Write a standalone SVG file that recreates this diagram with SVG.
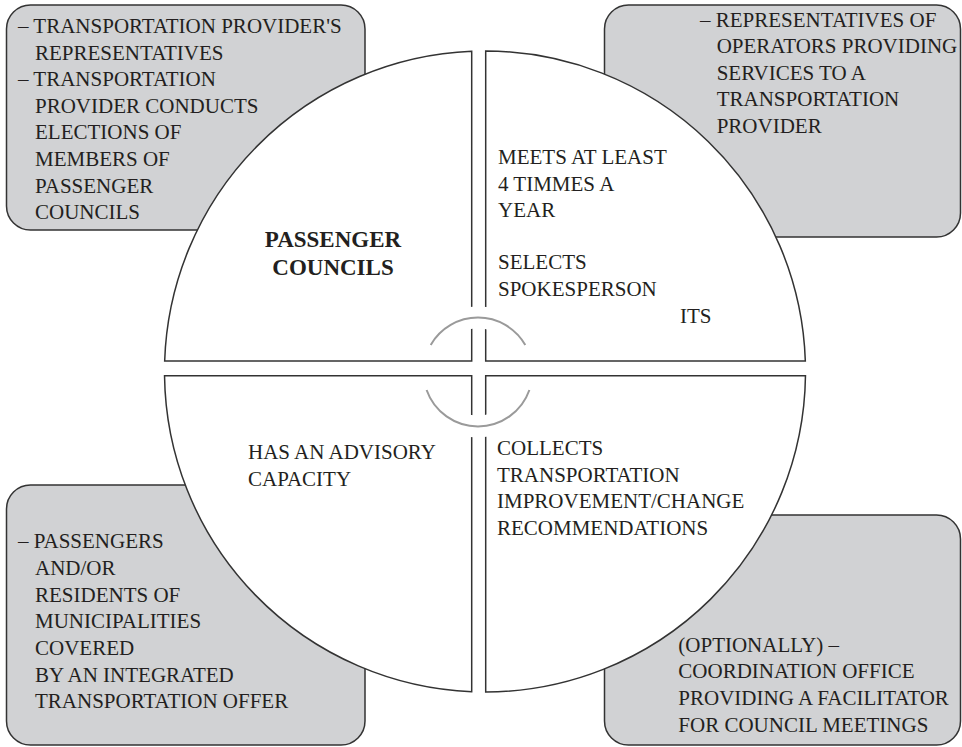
<svg xmlns="http://www.w3.org/2000/svg" width="962" height="747" viewBox="0 0 962 747">
<style>
.box{fill:#d1d2d4;stroke:#333;stroke-width:1.5}
.q{fill:#fff;stroke:#333;stroke-width:1.5}
.t{font-family:"Liberation Serif","Times New Roman",serif;font-size:21px;fill:#231f20}
.b{font-family:"Liberation Serif","Times New Roman",serif;font-size:23px;font-weight:bold;fill:#231f20;text-anchor:middle}
.halo{fill:none;stroke:#fff;stroke-width:22}
.arc{fill:none;stroke:#9a9a9a;stroke-width:2}
</style>
<rect width="962" height="747" fill="#fff"/>
<g id="box-tl">
<rect class="box" x="6.5" y="5" width="358.5" height="225" rx="24"/>
<text class="t"><tspan x="18" y="33">– TRANSPORTATION PROVIDER'S</tspan><tspan x="35" y="59.6">REPRESENTATIVES</tspan><tspan x="18" y="86.2">– TRANSPORTATION</tspan><tspan x="35" y="112.8">PROVIDER CONDUCTS</tspan><tspan x="35" y="139.4">ELECTIONS OF</tspan><tspan x="35" y="166">MEMBERS OF</tspan><tspan x="35" y="192.6">PASSENGER</tspan><tspan x="35" y="219.2">COUNCILS</tspan></text>
</g>
<g id="box-tr">
<rect class="box" x="604.5" y="5" width="356" height="232" rx="24"/>
<text class="t"><tspan x="700" y="26.7">– REPRESENTATIVES OF</tspan><tspan x="716.7" y="53.2">OPERATORS PROVIDING</tspan><tspan x="716.7" y="79.8">SERVICES TO A</tspan><tspan x="716.7" y="106.4">TRANSPORTATION</tspan><tspan x="716.7" y="133">PROVIDER</tspan></text>
</g>
<g id="box-bl">
<rect class="box" x="6.5" y="485" width="358.5" height="260" rx="24"/>
<text class="t"><tspan x="18" y="548.3">– PASSENGERS</tspan><tspan x="35" y="575">AND/OR</tspan><tspan x="35" y="601.7">RESIDENTS OF</tspan><tspan x="35" y="628.3">MUNICIPALITIES</tspan><tspan x="35" y="655">COVERED</tspan><tspan x="35" y="681.7">BY AN INTEGRATED</tspan><tspan x="35" y="708.3">TRANSPORTATION OFFER</tspan></text>
</g>
<g id="box-br">
<rect class="box" x="604.5" y="515" width="356" height="230" rx="24"/>
<text class="t"><tspan x="678.3" y="651.7">(OPTIONALLY) –</tspan><tspan x="678.3" y="678.3">COORDINATION OFFICE</tspan><tspan x="678.3" y="705">PROVIDING A FACILITATOR</tspan><tspan x="678.3" y="731.7">FOR COUNCIL MEETINGS</tspan></text>
</g>
<g id="quad-ul">
<path class="q" d="M471.7,361 L471.7,51.28 A320.5,320.5 0 0 0 164.67,361 Z"/>
<text class="b"><tspan x="333" y="246.7">PASSENGER</tspan><tspan x="333" y="275">COUNCILS</tspan></text>
</g>
<g id="quad-ur">
<path class="q" d="M485.7,361 L485.7,51 A320.5,320.5 0 0 1 805.33,361 Z"/>
<text class="t"><tspan x="498" y="164">MEETS AT LEAST</tspan><tspan x="498" y="191">4 TIMMES A</tspan><tspan x="498" y="217">YEAR</tspan><tspan x="498" y="269">SELECTS</tspan><tspan x="498" y="296">SPOKESPERSON</tspan><tspan x="680" y="323">ITS</tspan></text>
</g>
<g id="quad-ll">
<path class="q" d="M471.7,375.7 L471.7,691.72 A320.5,320.5 0 0 1 164.53,375.7 Z"/>
<text class="t"><tspan x="248" y="459">HAS AN ADVISORY</tspan><tspan x="248" y="486">CAPACITY</tspan></text>
</g>
<g id="quad-lr">
<path class="q" d="M485.7,375.7 L805.47,375.7 A320.5,320.5 0 0 1 485.7,692 Z"/>
<text class="t"><tspan x="497" y="455">COLLECTS</tspan><tspan x="497" y="481.5">TRANSPORTATION</tspan><tspan x="497" y="508">IMPROVEMENT/CHANGE</tspan><tspan x="497" y="534.5">RECOMMENDATIONS</tspan></text>
</g>
<g id="connectors">
<path class="halo" d="M430.7,345 A54.5,54.5 0 0 1 525.3,345"/>
<path class="halo" d="M426.6,390 A54.5,54.5 0 0 0 529.4,390"/>
<path class="arc" d="M430.7,345 A54.5,54.5 0 0 1 525.3,345"/>
<path class="arc" d="M426.6,390 A54.5,54.5 0 0 0 529.4,390"/>
</g>
</svg>
